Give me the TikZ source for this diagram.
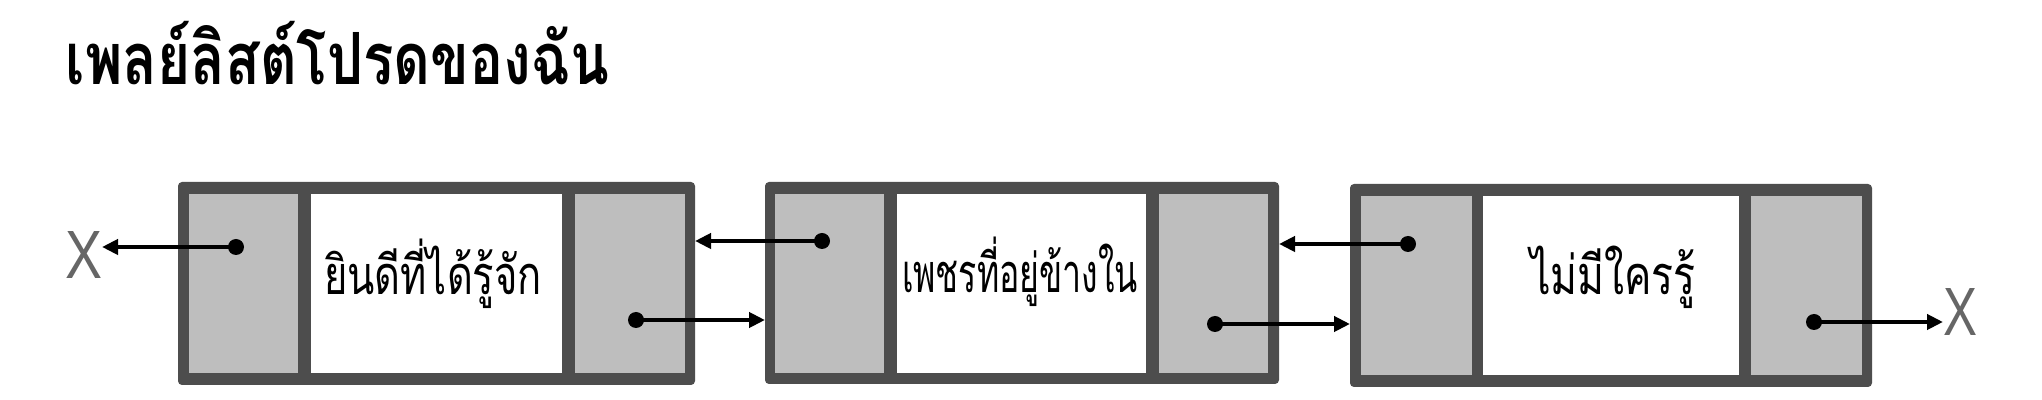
\documentclass[tikz,border=0pt]{standalone}
\usepackage{fontspec}
\usepackage{graphicx}
\newfontfamily\thaifont[Script=Thai]{Loma}
\setsansfont{Liberation Sans}
\usetikzlibrary{arrows.meta}
\definecolor{frame}{HTML}{4D4D4D}
\definecolor{cellgray}{HTML}{BEBEBE}
\definecolor{xgray}{HTML}{666666}
\tikzset{
  outerbox/.style={fill=frame, rounded corners=2pt, anchor=north west, inner sep=0pt, outer sep=0pt, draw=none},
  grcell/.style={fill=cellgray, anchor=north west, inner sep=0pt, outer sep=0pt, minimum height=179*0.5pt},
  whcell/.style={fill=white, anchor=north west, inner sep=0pt, outer sep=0pt, minimum height=179*0.5pt},
  dot/.style={circle, fill=black, inner sep=0pt, outer sep=0pt, minimum size=8pt},
  ptr/.style={line width=2pt, -{Triangle[length=8pt,width=7.5pt]}},
  xmark/.style={inner sep=0pt, outer sep=0pt, text=xgray, font=\sffamily},
  label/.style={inner sep=0pt, outer sep=0pt, anchor=base}
}
\begin{document}
\begin{tikzpicture}[x=0.5pt,y=-0.5pt]
\useasboundingbox[fill=white] (0,0) rectangle (2042,400);

% title
\node[label] (title) at (337.5,85) {\resizebox{271.5pt}{\height}{\fontsize{36}{43}\selectfont\thaifont\bfseries เพลย์ลิสต์โปรดของฉัน}};

% box 1
\node[outerbox, minimum width=517*0.5pt, minimum height=203*0.5pt] (box1) at (178,182) {};
\node[grcell, minimum width=109*0.5pt] (b1l) at (189,194) {};
\node[whcell, minimum width=251*0.5pt] (b1m) at (311,194) {};
\node[grcell, minimum width=110*0.5pt] (b1r) at (575,194) {};
\node[label] (t1) at (433,295) {\resizebox{109pt}{\height}{\fontsize{27}{32}\selectfont\thaifont ยินดีที่ได้รู้จัก}};

% box 2
\node[outerbox, minimum width=514*0.5pt, minimum height=202*0.5pt] (box2) at (765,182) {};
\node[grcell, minimum width=109*0.5pt] (b2l) at (775,194) {};
\node[whcell, minimum width=249*0.5pt] (b2m) at (897,194) {};
\node[grcell, minimum width=109*0.5pt] (b2r) at (1159,194) {};
\node[label] (t2) at (1020,293) {\resizebox{118pt}{\height}{\fontsize{27}{32}\selectfont\thaifont เพชรที่อยู่ข้างใน}};

% box 3
\node[outerbox, minimum width=522*0.5pt, minimum height=203*0.5pt] (box3) at (1350,184) {};
\node[grcell, minimum width=111*0.5pt] (b3l) at (1361,196) {};
\node[whcell, minimum width=256*0.5pt] (b3m) at (1483,196) {};
\node[grcell, minimum width=111*0.5pt] (b3r) at (1751,196) {};
\node[label] (t3) at (1613,295) {\resizebox{83pt}{\height}{\fontsize{27}{32}\selectfont\thaifont ไม่มีใครรู้}};

% end markers
\node[xmark, anchor=south west] (xl) at (65,279) {\resizebox{18.5pt}{23.5pt}{X}};
\node[xmark, anchor=south west] (xr) at (1943,336) {\resizebox{17pt}{23.5pt}{X}};

% dots
\node[dot] (d1l) at (236,247) {};
\node[dot] (d1r) at (636,320) {};
\node[dot] (d2l) at (822,241) {};
\node[dot] (d2r) at (1215,324) {};
\node[dot] (d3l) at (1408,244) {};
\node[dot] (d3r) at (1814,322) {};

% pointers
\draw[ptr] (d1l.center) -- (d1l.center -| xl.east);
\draw[ptr] (d1r.center) -- (d1r.center -| box2.west);
\draw[ptr] (d2l.center) -- (d2l.center -| box1.east);
\draw[ptr] (d2r.center) -- (d2r.center -| box3.west);
\draw[ptr] (d3l.center) -- (d3l.center -| box2.east);
\draw[ptr] (d3r.center) -- (d3r.center -| xr.west);
\end{tikzpicture}
\end{document}
